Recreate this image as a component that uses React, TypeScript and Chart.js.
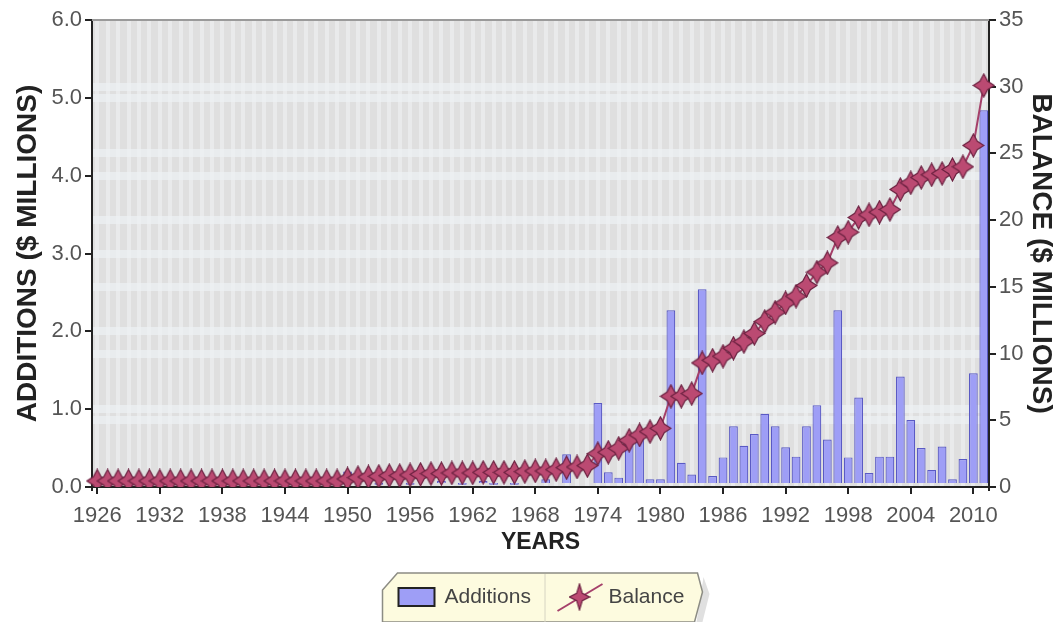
import React, { useEffect, useRef } from 'react';
import { Chart, registerables } from 'chart.js';

Chart.register(...registerables);

const years = [
  '1926', '1927', '1928', '1929', '1930', '1931', '1932', '1933', '1934', '1935',
  '1936', '1937', '1938', '1939', '1940', '1941', '1942', '1943', '1944', '1945',
  '1946', '1947', '1948', '1949', '1950', '1951', '1952', '1953', '1954', '1955',
  '1956', '1957', '1958', '1959', '1960', '1961', '1962', '1963', '1964', '1965',
  '1966', '1967', '1968', '1969', '1970', '1971', '1972', '1973', '1974', '1975',
  '1976', '1977', '1978', '1979', '1980', '1981', '1982', '1983', '1984', '1985',
  '1986', '1987', '1988', '1989', '1990', '1991', '1992', '1993', '1994', '1995',
  '1996', '1997', '1998', '1999', '2000', '2001', '2002', '2003', '2004', '2005',
  '2006', '2007', '2008', '2009', '2010', '2011',
];

const xTickLabels = [
  '1926', '1932', '1938', '1944', '1950', '1956', '1962', '1968', '1974', '1980',
  '1986', '1992', '1998', '2004', '2010',
];

// Additions ($ millions), left axis
const additions = [
  0, 0, 0, 0, 0, 0, 0, 0, 0, 0,
  0, 0, 0, 0, 0, 0, 0, 0, 0, 0,
  0, 0, 0, 0, 0.2, 0, 0, 0.03, 0, 0,
  0.03, 0, 0.05, 0.08, 0, 0.03, 0.05, 0.08, 0.03, 0,
  0.03, 0.05, 0.05, 0.1, 0.05, 0.42, 0.05, 0.05, 1.08, 0.19,
  0.12, 0.6, 0.7, 0.1, 0.1, 2.27, 0.31, 0.16, 2.54, 0.14,
  0.38, 0.78, 0.53, 0.68, 0.94, 0.78, 0.51, 0.39, 0.78, 1.05,
  0.61, 2.27, 0.38, 1.15, 0.18, 0.39, 0.39, 1.42, 0.86, 0.5,
  0.22, 0.52, 0.1, 0.36, 1.46, 4.84,
];

// Balance ($ millions), right axis
const balance = [
  0.45, 0.45, 0.45, 0.45, 0.45, 0.45, 0.45, 0.45, 0.45, 0.45,
  0.45, 0.45, 0.45, 0.45, 0.45, 0.45, 0.45, 0.45, 0.45, 0.45,
  0.45, 0.45, 0.45, 0.45, 0.6, 0.7, 0.75, 0.8, 0.85, 0.85,
  0.9, 0.95, 1.0, 1.0, 1.05, 1.05, 1.05, 1.1, 1.1, 1.1,
  1.1, 1.15, 1.2, 1.2, 1.3, 1.45, 1.5, 1.6, 2.5, 2.6,
  2.9, 3.5, 3.9, 4.15, 4.4, 6.8, 6.8, 7.0, 9.3, 9.5,
  9.8, 10.4, 10.9, 11.5, 12.4, 13.1, 13.8, 14.3, 15.1, 16.1,
  16.8, 18.7, 19.1, 20.2, 20.4, 20.6, 20.8, 22.3, 22.8, 23.2,
  23.4, 23.5, 23.8, 24.0, 25.6, 30.1,
];

const FONT = "'Liberation Sans', Arial, sans-serif";
const BAR_FILL = '#9e9ef6';
const BAR_BORDER = '#5a5ac4';
const LINE_COLOR = '#a5406a';

function makeStar(w: number, h: number, inner: number): HTMLCanvasElement {
  const c = document.createElement('canvas');
  c.width = w;
  c.height = h;
  const g = c.getContext('2d') as CanvasRenderingContext2D;
  const cx = w / 2;
  const cy = h / 2;
  const rx = w / 2 - 1;
  const ry = h / 2 - 1;
  g.beginPath();
  for (let i = 0; i < 8; i++) {
    const ang = -Math.PI / 2 + (i * Math.PI) / 4;
    const k = i % 2 === 0 ? 1 : inner;
    g.lineTo(cx + rx * k * Math.cos(ang), cy + ry * k * Math.sin(ang));
  }
  g.closePath();
  g.fillStyle = '#bb4a72';
  g.fill();
  g.strokeStyle = '#6b2140';
  g.lineWidth = 1.2;
  g.stroke();
  return c;
}

export default function App() {
  const canvasRef = useRef<HTMLCanvasElement | null>(null);

  useEffect(() => {
    const canvas = canvasRef.current;
    if (!canvas) return;
    Chart.defaults.font.family = FONT;
    const star = makeStar(23, 25, 0.52);
    const legendStar = makeStar(22, 28, 0.4);

    const bgPlugin = {
      id: 'plotBg',
      beforeDraw(chart: any) {
        const { ctx, chartArea: a } = chart;
        ctx.save();
        ctx.fillStyle = '#dfdfdf';
        ctx.fillRect(a.left, a.top, a.right - a.left, a.bottom - a.top);
        ctx.restore();
      },
      beforeDatasetsDraw(chart: any) {
        const { ctx, chartArea: a } = chart;
        ctx.save();
        ctx.strokeStyle = '#9a9a9a';
        ctx.lineWidth = 2;
        ctx.beginPath();
        ctx.moveTo(a.left, a.top);
        ctx.lineTo(a.right, a.top);
        ctx.stroke();
        ctx.restore();
      },
    };

    const legendPlugin = {
      id: 'customLegend',
      afterDraw(chart: any) {
        const { ctx, chartArea: a } = chart;
        const cx = (a.left + a.right) / 2;
        const top = 573;
        const bottom = 622;
        const L = cx - 158;
        const R = cx + 162;
        ctx.save();
        // shadow
        ctx.beginPath();
        ctx.moveTo(R + 1, top + 4);
        ctx.lineTo(R + 7, top + 21);
        ctx.lineTo(R, bottom);
        ctx.lineTo(R - 6, bottom);
        ctx.closePath();
        ctx.fillStyle = 'rgba(0,0,0,0.12)';
        ctx.fill();
        // box
        ctx.beginPath();
        ctx.moveTo(L + 15, top);
        ctx.lineTo(R - 5, top);
        ctx.lineTo(R, top + 19);
        ctx.lineTo(R - 8, bottom);
        ctx.lineTo(L, bottom);
        ctx.lineTo(L, top + 17);
        ctx.closePath();
        ctx.fillStyle = '#fdfbdf';
        ctx.fill();
        ctx.strokeStyle = '#8c8c84';
        ctx.lineWidth = 1.5;
        ctx.stroke();
        // separator
        ctx.strokeStyle = '#d6d4c2';
        ctx.lineWidth = 1;
        ctx.beginPath();
        ctx.moveTo(cx + 4.5, top + 1);
        ctx.lineTo(cx + 4.5, bottom);
        ctx.stroke();
        const midY = 597;
        // Additions swatch
        ctx.fillStyle = BAR_FILL;
        ctx.strokeStyle = '#222';
        ctx.lineWidth = 2;
        ctx.beginPath();
        ctx.rect(cx - 142, midY - 9, 36, 18);
        ctx.fill();
        ctx.stroke();
        ctx.fillStyle = '#444';
        ctx.font = `21px ${FONT}`;
        ctx.textBaseline = 'middle';
        ctx.textAlign = 'left';
        ctx.fillText('Additions', cx - 96, midY);
        // Balance marker
        ctx.strokeStyle = LINE_COLOR;
        ctx.lineWidth = 2;
        ctx.beginPath();
        ctx.moveTo(cx + 17, midY + 14);
        ctx.lineTo(cx + 62, midY - 13);
        ctx.stroke();
        ctx.drawImage(legendStar, cx + 39 - 11, midY - 14);
        ctx.fillStyle = '#444';
        ctx.fillText('Balance', cx + 68, midY);
        ctx.restore();
      },
    };

    const chart = new Chart(canvas, {
      type: 'bar',
      data: {
        labels: years,
        datasets: [
          {
            type: 'line',
            label: 'Balance',
            data: balance,
            yAxisID: 'y1',
            borderColor: LINE_COLOR,
            borderWidth: 2,
            pointStyle: star as any,
            pointRadius: 11,
            tension: 0,
            order: 0,
          } as any,
          {
            type: 'bar',
            label: 'Additions',
            data: additions,
            yAxisID: 'y',
            backgroundColor: BAR_FILL,
            borderColor: BAR_BORDER,
            borderWidth: 1.2,
            categoryPercentage: 0.84,
            barPercentage: 1,
            order: 1,
          } as any,
        ],
      },
      options: {
        animation: false,
        responsive: true,
        maintainAspectRatio: false,
        layout: { padding: { top: 20, bottom: 57, left: 0, right: 0 } },
        plugins: {
          legend: { display: false },
          tooltip: { enabled: false },
        },
        scales: {
          x: {
            offset: true,
            grid: {
              offset: false,
              color: 'rgba(236,237,239,0.75)',
              lineWidth: 4,
              tickColor: (c: any) =>
                xTickLabels.includes(years[c.index]) ? '#222' : 'rgba(0,0,0,0)',
              tickLength: 7,
              tickWidth: 2,
            } as any,
            border: { color: '#222', width: 2 },
            ticks: {
              autoSkip: false,
              maxRotation: 0,
              minRotation: 0,
              color: '#555',
              font: { size: 22 },
              padding: 9,
              callback: (_v: any, i: number) =>
                xTickLabels.includes(years[i]) ? years[i] : '',
            },
            title: {
              display: true,
              text: 'YEARS',
              color: '#222',
              font: { size: 23, weight: 'bold' },
              padding: { top: 0, bottom: 9 },
            },
            afterFit: (s: any) => {
              s.height = 78;
            },
          },
          y: {
            position: 'left',
            min: 0,
            max: 6,
            ticks: {
              stepSize: 1,
              color: '#555',
              font: { size: 22 },
              padding: 3,
              callback: (v: any) => Number(v).toFixed(1),
            },
            grid: {
              color: (c: any) =>
                c.tick && (c.tick.value === 0 || c.tick.value === 6)
                  ? 'rgba(0,0,0,0)'
                  : 'rgba(236,240,243,0.75)',
              lineWidth: 8,
              tickColor: '#222',
              tickLength: 7,
              tickWidth: 2,
            } as any,
            border: { color: '#222', width: 2 },
            title: {
              display: true,
              text: 'ADDITIONS ($ MILLIONS)',
              color: '#222',
              font: { size: 28, weight: 'bold' },
              padding: { top: 11, bottom: 0 },
            },
            afterFit: (s: any) => {
              s.width = 92;
            },
          },
          y1: {
            position: 'right',
            min: 0,
            max: 35,
            ticks: {
              stepSize: 5,
              color: '#555',
              font: { size: 22 },
              padding: 3,
            },
            grid: {
              color: (c: any) =>
                c.tick && (c.tick.value === 0 || c.tick.value === 35)
                  ? 'rgba(0,0,0,0)'
                  : 'rgba(236,240,243,0.75)',
              lineWidth: 8,
              tickColor: '#222',
              tickLength: 7,
              tickWidth: 2,
            } as any,
            border: { color: '#222', width: 2 },
            title: {
              display: true,
              text: 'BALANCE ($ MILLIONS)',
              color: '#222',
              font: { size: 28, weight: 'bold' },
              padding: { top: 0, bottom: 0 },
            },
            afterFit: (s: any) => {
              s.width = 69;
            },
          },
        },
      } as any,
      plugins: [bgPlugin, legendPlugin],
    });

    return () => {
      chart.destroy();
    };
  }, []);

  return (
    <div
      style={{
        position: 'absolute',
        left: 0,
        top: 0,
        width: 1058,
        height: 622,
        background: '#ffffff',
      }}
    >
      <canvas ref={canvasRef} />
    </div>
  );
}
